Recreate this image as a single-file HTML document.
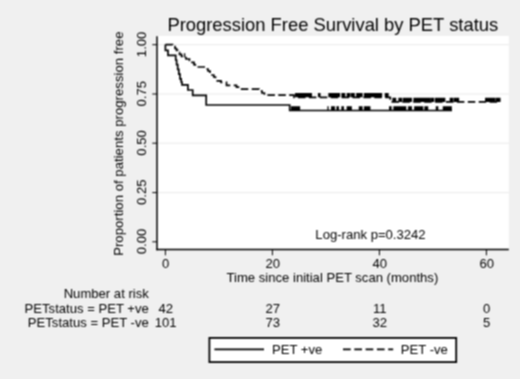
<!DOCTYPE html>
<html lang="en"><head><meta charset="utf-8"><title>Progression Free Survival by PET status</title>
<style>
html,body{margin:0;padding:0;background:#f0f0f0;}
body{width:520px;height:379px;overflow:hidden;font-family:"Liberation Sans",Arial,sans-serif;}
svg{display:block;}
</style></head><body>
<svg width="520" height="379" viewBox="0 0 520 379">
<defs><filter id="soft" x="0" y="0" width="520" height="379" filterUnits="userSpaceOnUse" color-interpolation-filters="sRGB"><feConvolveMatrix order="3" kernelMatrix="0.0625 0.1250 0.0625 0.1250 0.2500 0.1250 0.0625 0.1250 0.0625" edgeMode="duplicate" preserveAlpha="true"/></filter></defs>
<g filter="url(#soft)">
<rect x="0" y="0" width="520" height="379" fill="#f0f0f0"/>
<rect x="156.5" y="35.9" width="352.3" height="213.8" fill="#ffffff"/>
<line x1="157" x2="508.8" y1="192.6" y2="192.6" stroke="#e9e9e9" stroke-width="1"/>
<line x1="157" x2="508.8" y1="143.2" y2="143.2" stroke="#e9e9e9" stroke-width="1"/>
<line x1="157" x2="508.8" y1="94.0" y2="94.0" stroke="#e9e9e9" stroke-width="1"/>
<line x1="157" x2="508.8" y1="44.7" y2="44.7" stroke="#e9e9e9" stroke-width="1"/>
<g stroke="#000000" stroke-width="1.5" fill="none">
<line x1="157" x2="157" y1="36.2" y2="250.2"/>
<line x1="156.3" x2="508.8" y1="249.5" y2="249.5"/>
</g>
<g stroke="#000000" stroke-width="1" fill="none">
<line x1="152.3" x2="157" y1="241.8" y2="241.8"/>
<line x1="152.3" x2="157" y1="192.6" y2="192.6"/>
<line x1="152.3" x2="157" y1="143.2" y2="143.2"/>
<line x1="152.3" x2="157" y1="94.0" y2="94.0"/>
<line x1="152.3" x2="157" y1="44.7" y2="44.7"/>
<line x1="165.4" x2="165.4" y1="249.7" y2="255.3"/>
<line x1="272.4" x2="272.4" y1="249.7" y2="255.3"/>
<line x1="379.4" x2="379.4" y1="249.7" y2="255.3"/>
<line x1="486.4" x2="486.4" y1="249.7" y2="255.3"/>
</g>
<path d="M165.4,44.6 V50.3 H168 V55.3 H175.7 V60 H176.6 V64.7 H177.7 V69.4 H178.8 V74.1 H180 V78.8 H181.2 V82 H182 V84.8 H187.9 V90 H192.7 V95.3 H206.2 V105 H289.7 V110.5 H452" fill="none" stroke="#000000" stroke-width="1.7" stroke-linejoin="miter"/>
<path d="M165.4,44.6 H172.5 V46.6 H175 V48.5 H176.5 V50.4 H177.8 V52.4 H179.5 V54.3 H181.5 V56.3 H183.5 V57.5 H186 V59 H189.5 V60.4 H192 V62.3 H194 V64.6 H195.3 V67 H206.3 V69 H208 V71 H210 V73 H212 V75 H213.8 V77 H215.5 V78.8 H217.3 V80.8 H221 V82.3 H226.5 V85.3 H236.5 V87.2 H239.5 V89.1 H259 V91 H262 V93 H264.4 V95.2 H294 V97.3 H390.3 V101.9 H500" fill="none" stroke="#000000" stroke-width="1.7" stroke-dasharray="7.5 3.4"/>
<path d="M184.6,57.5v-4.2M295.7,97.3v-4.2M297.0,97.3v-4.2M298.3,97.3v-4.2M299.6,97.3v-4.2M300.9,97.3v-4.2M302.2,97.3v-4.2M303.5,97.3v-4.2M304.8,97.3v-4.2M306.1,97.3v-4.2M307.4,97.3v-4.2M308.7,97.3v-4.2M310.0,97.3v-4.2M311.3,97.3v-4.2M318.6,97.3v-4.2M319.9,97.3v-4.2M329.0,97.3v-4.2M330.3,97.3v-4.2M331.6,97.3v-4.2M332.9,97.3v-4.2M334.2,97.3v-4.2M335.5,97.3v-4.2M336.8,97.3v-4.2M338.1,97.3v-4.2M339.4,97.3v-4.2M342.0,97.3v-4.2M343.3,97.3v-4.2M344.6,97.3v-4.2M347.3,97.3v-4.2M348.6,97.3v-4.2M349.9,97.3v-4.2M351.6,97.3v-4.2M352.9,97.3v-4.2M354.2,97.3v-4.2M356.8,97.3v-4.2M358.1,97.3v-4.2M359.4,97.3v-4.2M360.7,97.3v-4.2M362.0,97.3v-4.2M364.6,97.3v-4.2M365.9,97.3v-4.2M367.2,97.3v-4.2M368.5,97.3v-4.2M369.8,97.3v-4.2M371.1,97.3v-4.2M372.4,97.3v-4.2M373.7,97.3v-4.2M375.0,97.3v-4.2M376.3,97.3v-4.2M377.6,97.3v-4.2M378.9,97.3v-4.2M380.2,97.3v-4.2M381.5,97.3v-4.2M385.4,97.3v-4.2M386.7,97.3v-4.2M388.0,97.3v-4.2M393.0,101.9v-4.2M394.3,101.9v-4.2M395.6,101.9v-4.2M399.0,101.9v-4.2M400.3,101.9v-4.2M401.6,101.9v-4.2M403.5,101.9v-4.2M404.8,101.9v-4.2M406.1,101.9v-4.2M407.4,101.9v-4.2M408.7,101.9v-4.2M410.0,101.9v-4.2M411.3,101.9v-4.2M414.0,101.9v-4.2M415.3,101.9v-4.2M416.6,101.9v-4.2M417.9,101.9v-4.2M419.2,101.9v-4.2M420.5,101.9v-4.2M421.8,101.9v-4.2M423.1,101.9v-4.2M424.4,101.9v-4.2M425.7,101.9v-4.2M427.0,101.9v-4.2M428.3,101.9v-4.2M429.6,101.9v-4.2M431.0,101.9v-4.2M432.3,101.9v-4.2M433.6,101.9v-4.2M435.6,101.9v-4.2M436.9,101.9v-4.2M438.2,101.9v-4.2M439.5,101.9v-4.2M440.8,101.9v-4.2M442.1,101.9v-4.2M443.4,101.9v-4.2M444.7,101.9v-4.2M450.3,101.9v-4.2M451.6,101.9v-4.2M452.9,101.9v-4.2M454.6,101.9v-4.2M455.9,101.9v-4.2M457.2,101.9v-4.2M458.5,101.9v-4.2M485.7,101.9v-4.2M487.0,101.9v-4.2M488.3,101.9v-4.2M489.2,101.9v-4.2M490.5,101.9v-4.2M491.8,101.9v-4.2M493.1,101.9v-4.2M494.4,101.9v-4.2M496.0,101.9v-4.2M497.3,101.9v-4.2M498.6,101.9v-4.2M499.9,101.9v-4.2M291.7,110.5v-4.2M293.0,110.5v-4.2M294.3,110.5v-4.2M295.6,110.5v-4.2M296.9,110.5v-4.2M298.2,110.5v-4.2M299.5,110.5v-4.2M328.0,110.5v-4.2M331.7,110.5v-4.2M333.0,110.5v-4.2M334.3,110.5v-4.2M337.0,110.5v-4.2M338.3,110.5v-4.2M342.0,110.5v-4.2M343.3,110.5v-4.2M347.3,110.5v-4.2M348.6,110.5v-4.2M349.9,110.5v-4.2M351.2,110.5v-4.2M359.4,110.5v-4.2M360.7,110.5v-4.2M362.0,110.5v-4.2M364.6,110.5v-4.2M365.9,110.5v-4.2M367.2,110.5v-4.2M368.5,110.5v-4.2M369.8,110.5v-4.2M389.7,110.5v-4.2M391.0,110.5v-4.2M394.0,110.5v-4.2M395.3,110.5v-4.2M396.6,110.5v-4.2M397.9,110.5v-4.2M399.2,110.5v-4.2M400.5,110.5v-4.2M401.8,110.5v-4.2M403.1,110.5v-4.2M404.4,110.5v-4.2M405.7,110.5v-4.2M408.7,110.5v-4.2M410.0,110.5v-4.2M411.3,110.5v-4.2M414.8,110.5v-4.2M416.1,110.5v-4.2M417.4,110.5v-4.2M418.7,110.5v-4.2M420.0,110.5v-4.2M421.3,110.5v-4.2M422.6,110.5v-4.2M425.0,110.5v-4.2M426.3,110.5v-4.2M427.6,110.5v-4.2M436.4,110.5v-4.2M437.7,110.5v-4.2M443.4,110.5v-4.2M444.7,110.5v-4.2M446.0,110.5v-4.2M447.3,110.5v-4.2M448.6,110.5v-4.2M449.9,110.5v-4.2M451.2,110.5v-4.2" fill="none" stroke="#000000" stroke-width="1.3"/>
<g font-family="'Liberation Sans', Arial, sans-serif" fill="#000000" font-size="13.1">
<text x="332.8" y="30.7" font-size="18.4" text-anchor="middle">Progression Free Survival by PET status</text>
<text transform="translate(145.6,241.5) rotate(-90)" text-anchor="middle">0.00</text>
<text transform="translate(145.6,192.2) rotate(-90)" text-anchor="middle">0.25</text>
<text transform="translate(145.6,142.9) rotate(-90)" text-anchor="middle">0.50</text>
<text transform="translate(145.6,93.7) rotate(-90)" text-anchor="middle">0.75</text>
<text transform="translate(145.6,44.4) rotate(-90)" text-anchor="middle">1.00</text>
<text transform="translate(123,143.7) rotate(-90)" text-anchor="middle" font-size="13.2">Proportion of patients progression free</text>
<text x="165.7" y="268.2" text-anchor="middle">0</text>
<text x="272.7" y="268.2" text-anchor="middle">20</text>
<text x="379.7" y="268.2" text-anchor="middle">40</text>
<text x="486.7" y="268.2" text-anchor="middle">60</text>
<text x="332.4" y="282.3" text-anchor="middle">Time since initial PET scan (months)</text>
<text x="370.5" y="238.7" text-anchor="middle">Log-rank p=0.3242</text>
<text x="148.8" y="298.4" text-anchor="end">Number at risk</text>
<text x="148.8" y="312.8" text-anchor="end">PETstatus = PET +ve</text>
<text x="148.8" y="327.3" text-anchor="end">PETstatus = PET -ve</text>
<text x="165.7" y="312.8" text-anchor="middle">42</text>
<text x="165.7" y="327.3" text-anchor="middle">101</text>
<text x="272.7" y="312.8" text-anchor="middle">27</text>
<text x="272.7" y="327.3" text-anchor="middle">73</text>
<text x="379.7" y="312.8" text-anchor="middle">11</text>
<text x="379.7" y="327.3" text-anchor="middle">32</text>
<text x="486.7" y="312.8" text-anchor="middle">0</text>
<text x="486.7" y="327.3" text-anchor="middle">5</text>
<rect x="209.4" y="337.9" width="246.8" height="24.2" fill="#ffffff" stroke="#000000" stroke-width="1.8"/>
<line x1="214.4" x2="264" y1="349.4" y2="349.4" stroke="#000000" stroke-width="1.6"/>
<line x1="343" x2="393.2" y1="349.4" y2="349.4" stroke="#000000" stroke-width="1.6" stroke-dasharray="7.7 3.6"/>
<text x="272" y="354.4">PET +ve</text>
<text x="400.8" y="354.4">PET -ve</text>
</g>
</g>
</svg>
</body></html>
